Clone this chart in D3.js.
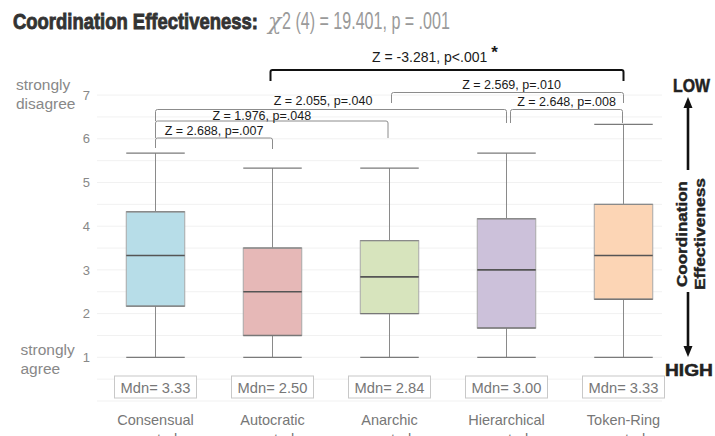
<!DOCTYPE html>
<html>
<head>
<meta charset="utf-8">
<script src="https://cdn.jsdelivr.net/npm/d3@7"></script>
<style>
  html, body { margin: 0; padding: 0; background: #fff; }
  svg { display: block; }
  text { font-family: "Liberation Sans", Arial, sans-serif; }
</style>
</head>
<body>
<svg id="chart" width="715" height="436"></svg>
<script>
// ---- data ----
const categories = ["Consensual control", "Autocratic control", "Anarchic control", "Hierarchical control", "Token-Ring control"];
const whiskerLow  = [1, 1, 1, 1, 1];
const quartile1   = [2.17, 1.50, 2.00, 1.67, 2.33];
const medians     = [3.33, 2.50, 2.84, 3.00, 3.33];
const quartile3   = [4.33, 3.50, 3.67, 4.17, 4.50];
const whiskerHigh = [5.67, 5.33, 5.33, 5.67, 6.33];
const medianLabels = ["Mdn= 3.33", "Mdn= 2.50", "Mdn= 2.84", "Mdn= 3.00", "Mdn= 3.33"];
const yTicks = [1, 2, 3, 4, 5, 6, 7];

// pairwise comparisons (index into categories)
const pairFrom   = [0, 0, 0, 2, 3, 1];
const pairTo     = [1, 2, 3, 4, 4, 4];
const pairLabels = ["Z = 2.688, p=.007", "Z = 1.976, p=.048", "Z = 2.055, p=.040",
                    "Z = 2.569, p=.010", "Z = 2.648, p=.008", "Z = -3.281, p<.001"];
const pairSignificant = [false, false, false, false, false, true];

const titleMain = "Coordination Effectiveness:";
const titleChi = "χ";
const titleStat = "2 (4) = 19.401, p = .001";

const fills = ["#b7dde8", "#e6b8b7", "#d7e4bd", "#ccc1da", "#fcd5b5"];

// ---- layout ----
const svg = d3.select("#chart");
const x = d3.scaleBand().domain(categories).range([97, 682]).paddingInner(0);
const y = d3.scaleLinear().domain([1, 7]).range([357.3, 95.1]);
const cx = i => x(categories[i]) + x.bandwidth() / 2;
const boxW = x.bandwidth() * 0.5;

// squeeze a text horizontally to a given width, anchored at its left edge
function fitWidth(sel, x0, y0, width) {
  const w = sel.node().getComputedTextLength();
  sel.attr("x", 0).attr("y", 0)
     .attr("transform", `translate(${x0},${y0}) scale(${width / w},1)`);
  return sel;
}

// faint grid
const gridVals = d3.range(0, 7.01, 0.5);
svg.append("g").selectAll("line").data(gridVals).join("line")
  .attr("x1", 97).attr("x2", 662)
  .attr("y1", d => y(d)).attr("y2", d => y(d))
  .attr("stroke", "#f1f1f1").attr("stroke-width", 1);

// y axis
const yAxis = svg.append("g").attr("transform", "translate(97,0)")
  .call(d3.axisLeft(y).tickValues(yTicks).tickSize(0).tickPadding(7).tickFormat(d3.format("d")));
yAxis.select(".domain").remove();
yAxis.selectAll("text").attr("fill", "#888").style("font-size", "13px")
  .style("font-family", "'Liberation Sans', Arial, sans-serif");

// scale end descriptions
const endLabels = svg.append("g").attr("fill", "#888").style("font-size", "15.5px");
endLabels.append("text").attr("x", 16).attr("y", 90).text("strongly");
endLabels.append("text").attr("x", 16).attr("y", 109).text("disagree");
endLabels.append("text").attr("x", 20.5).attr("y", 355).text("strongly");
endLabels.append("text").attr("x", 20.5).attr("y", 374).text("agree");

// box plots
const idx = d3.range(categories.length);
const boxes = svg.append("g");
// whiskers
boxes.selectAll("line.whisker").data(idx).join("line").attr("class", "whisker")
  .attr("x1", cx).attr("x2", cx)
  .attr("y1", i => y(whiskerLow[i])).attr("y2", i => y(whiskerHigh[i]))
  .attr("stroke", "#8a8a8a").attr("stroke-width", 1);
// caps
["low", "high"].forEach(k => {
  boxes.selectAll("line.cap-" + k).data(idx).join("line").attr("class", "cap-" + k)
    .attr("x1", i => cx(i) - boxW / 2).attr("x2", i => cx(i) + boxW / 2)
    .attr("y1", i => y(k === "low" ? whiskerLow[i] : whiskerHigh[i]))
    .attr("y2", i => y(k === "low" ? whiskerLow[i] : whiskerHigh[i]))
    .attr("stroke", "#7a7a7a").attr("stroke-width", 1.2);
});
// boxes
boxes.selectAll("rect.box").data(idx).join("rect").attr("class", "box")
  .attr("x", i => cx(i) - boxW / 2).attr("width", boxW)
  .attr("y", i => y(quartile3[i])).attr("height", i => y(quartile1[i]) - y(quartile3[i]))
  .attr("fill", i => fills[i]).attr("stroke", "#a8a8a8").attr("stroke-width", 1);
// quartile edges
boxes.selectAll("line.q3").data(idx).join("line").attr("class", "q3")
  .attr("x1", i => cx(i) - boxW / 2).attr("x2", i => cx(i) + boxW / 2)
  .attr("y1", i => y(quartile3[i])).attr("y2", i => y(quartile3[i]))
  .attr("stroke", "#8a8a8a").attr("stroke-width", 1.4);
boxes.selectAll("line.q1").data(idx).join("line").attr("class", "q1")
  .attr("x1", i => cx(i) - boxW / 2).attr("x2", i => cx(i) + boxW / 2)
  .attr("y1", i => y(quartile1[i])).attr("y2", i => y(quartile1[i]))
  .attr("stroke", "#777").attr("stroke-width", 1.4);
// medians
boxes.selectAll("line.median").data(idx).join("line").attr("class", "median")
  .attr("x1", i => cx(i) - boxW / 2).attr("x2", i => cx(i) + boxW / 2)
  .attr("y1", i => y(medians[i])).attr("y2", i => y(medians[i]))
  .attr("stroke", "#555").attr("stroke-width", 1.6);

// median boxes
const mdn = svg.append("g");
mdn.selectAll("rect").data(idx).join("rect")
  .attr("x", i => cx(i) - 41).attr("y", 376).attr("width", 82).attr("height", 22)
  .attr("fill", "#fff").attr("stroke", "#c8c8c8").attr("stroke-width", 1);
mdn.selectAll("text").data(idx).join("text")
  .attr("x", cx).attr("y", 392.5).attr("text-anchor", "middle")
  .attr("fill", "#777").style("font-size", "14.7px")
  .text(i => medianLabels[i]);

// category labels (two lines; the second line runs off the bottom edge)
const cat = svg.append("g").attr("fill", "#777").style("font-size", "14.5px");
idx.forEach(i => {
  const parts = categories[i].split(" ");
  cat.append("text").attr("x", cx(i)).attr("y", 425).attr("text-anchor", "middle").text(parts[0]);
  cat.append("text").attr("x", cx(i)).attr("y", 444).attr("text-anchor", "middle").text(parts.slice(1).join(" "));
});

// comparison brackets: bar height, leg ends, end insets, label shift / gap
const bracketLayout = [
  { bar: 138,   legL: 148, legR: 149, inL: 0, inR: 0,    dx: 0,   gap: 3 },
  { bar: 121,   legL: 138, legR: 138, inL: 0, inR: -1.5, dx: -10, gap: 1.5 },
  { bar: 109.5, legL: 121, legR: 123, inL: 0, inR: 0,    dx: -8,  gap: 4.5 },
  { bar: 92.5,  legL: 103, legR: 103, inL: 2, inR: 0,    dx: 4,   gap: 4 },
  { bar: 109.5, legL: 123, legR: 123, inL: 4, inR: -1,   dx: 0,   gap: 3.5 },
  { bar: 70,    legL: 81,  legR: 81,  inL: -2, inR: 0,   dx: -12, gap: 8.5 }
];
const br = svg.append("g").attr("fill", "none");
pairFrom.forEach((a, k) => {
  const L = bracketLayout[k];
  const x1 = cx(a) + L.inL, x2 = cx(pairTo[k]) + L.inR;
  const big = pairSignificant[k];
  br.append("path")
    .attr("d", `M${x1},${L.legL}V${L.bar + 2}Q${x1},${L.bar} ${x1 + 2},${L.bar}H${x2 - 2}Q${x2},${L.bar} ${x2},${L.bar + 2}V${L.legR}`)
    .attr("stroke", big ? "#111" : "#8c8c8c")
    .attr("stroke-width", big ? 2 : 1);
  const tx = (x1 + x2) / 2 + L.dx;
  const t = svg.append("text")
    .attr("x", tx).attr("y", L.bar - L.gap).attr("text-anchor", "middle")
    .attr("fill", "#1a1a1a").style("font-size", big ? "14px" : "12.5px")
    .text(pairLabels[k]);
  if (big) {
    t.append("tspan").attr("dx", 4).attr("dy", -4).style("font-size", "17px").style("font-weight", "bold").text("*");
  }
});

// title
fitWidth(svg.append("text")
  .attr("fill", "#333").attr("stroke", "#333").attr("stroke-width", 0.9)
  .style("font-size", "22.5px").style("font-weight", "bold")
  .text(titleMain), 13, 29, 245);
svg.append("text").attr("x", 268).attr("y", 29)
  .attr("fill", "#9a9a9a").style("font-size", "22px")
  .style("font-family", "'DejaVu Serif', serif").style("font-style", "italic")
  .text(titleChi);
fitWidth(svg.append("text")
  .attr("fill", "#9a9a9a").style("font-size", "23px")
  .text(titleStat), 282, 29, 168);

// right-hand direction guide
const guide = svg.append("g");
fitWidth(guide.append("text")
  .attr("fill", "#222").attr("stroke", "#222").attr("stroke-width", 0.5)
  .style("font-size", "17.5px").style("font-weight", "bold").text("LOW"), 673, 91.5, 37);
fitWidth(guide.append("text")
  .attr("fill", "#222").attr("stroke", "#222").attr("stroke-width", 0.5)
  .style("font-size", "17px").style("font-weight", "bold").text("HIGH"), 665, 376, 48);
guide.append("line").attr("x1", 688).attr("x2", 688).attr("y1", 170).attr("y2", 106)
  .attr("stroke", "#111").attr("stroke-width", 2.6);
guide.append("path").attr("d", "M688,97 L683.5,108 L692.5,108 Z").attr("fill", "#111");
guide.append("line").attr("x1", 688).attr("x2", 688).attr("y1", 292).attr("y2", 348)
  .attr("stroke", "#111").attr("stroke-width", 2.6);
guide.append("path").attr("d", "M688,357 L683.5,346 L692.5,346 Z").attr("fill", "#111");
const vt = guide.append("g").attr("transform", "translate(0,234) rotate(-90)")
  .attr("fill", "#222").attr("stroke", "#222").attr("stroke-width", 0.4)
  .style("font-size", "14px").style("font-weight", "bold").attr("text-anchor", "middle");
vt.append("text").attr("x", 0).attr("y", 686.5).attr("textLength", 106).attr("lengthAdjust", "spacingAndGlyphs").text("Coordination");
vt.append("text").attr("x", 0).attr("y", 704.5).attr("textLength", 112).attr("lengthAdjust", "spacingAndGlyphs").text("Effectiveness");
</script>
</body>
</html>
